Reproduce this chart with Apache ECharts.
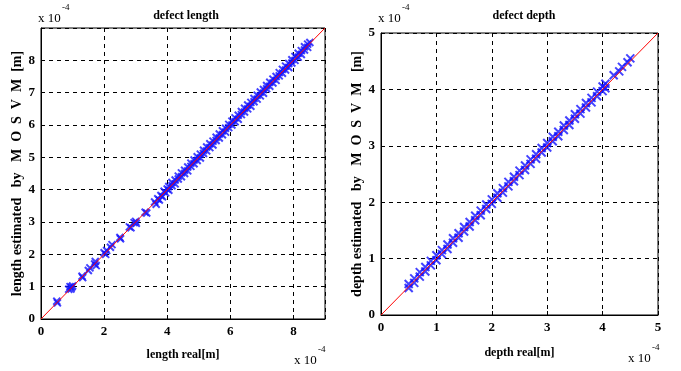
<!DOCTYPE html>
<html>
<head>
<meta charset="utf-8">
<script src="https://cdn.jsdelivr.net/npm/echarts@6/dist/echarts.min.js"></script>
<style>
  html, body { margin: 0; padding: 0; background: #fff; }
  #chart { width: 681px; height: 371px; }
</style>
</head>
<body>
<div id="chart"></div>
<script>
// values in units of 1e-4 m
var lengthReal = [
  0.5, 0.52, 0.88, 0.92, 0.95, 1.0, 0.97, 1.3, 1.32, 1.5, 1.55, 1.7, 1.72, 1.75,
  2.0, 2.05, 2.08, 2.2, 2.25, 2.5, 2.52, 2.8, 2.85, 2.95, 3.0, 3.02, 3.3, 3.35,
  3.6, 3.65, 3.7, 3.75, 3.8, 3.85, 3.9, 3.95, 4.0,
  4.05, 4.05, 4.15, 4.15, 4.25, 4.25, 4.35, 4.35, 4.45, 4.45, 4.55, 4.55,
  4.65, 4.65, 4.75, 4.75, 4.85, 4.85, 4.95, 4.95, 5.05, 5.05, 5.15, 5.15,
  5.25, 5.25, 5.35, 5.35, 5.45, 5.45, 5.55, 5.55, 5.65, 5.65, 5.75, 5.75,
  5.85, 5.85, 5.95, 5.95, 6.05, 6.05, 6.15, 6.15, 6.25, 6.25, 6.35, 6.35,
  6.45, 6.45, 6.55, 6.55, 6.65, 6.65, 6.75, 6.75, 6.85, 6.85, 6.95, 6.95,
  7.05, 7.05, 7.15, 7.15, 7.25, 7.25, 7.35, 7.35, 7.45, 7.45, 7.55, 7.55,
  7.65, 7.65, 7.75, 7.75, 7.85, 7.85, 7.95, 7.95, 8.05, 8.05, 8.15, 8.15,
  8.25, 8.25, 8.35, 8.35, 8.45, 8.45, 8.52
];
var lengthEst = [
  0.55, 0.5, 0.92, 1.0, 0.93, 1.02, 0.98, 1.32, 1.28, 1.5, 1.58, 1.7, 1.78, 1.65,
  2.05, 2.0, 2.12, 2.22, 2.3, 2.52, 2.48, 2.85, 2.82, 2.98, 3.02, 2.96, 3.3, 3.28,
  3.62, 3.55, 3.72, 3.68, 3.82, 3.78, 3.95, 3.9, 4.02,
  4.1, 3.98, 4.12, 4.22, 4.3, 4.18, 4.33, 4.42, 4.52, 4.4, 4.5, 4.6,
  4.7, 4.58, 4.72, 4.82, 4.92, 4.8, 4.9, 5.02, 5.1, 4.98, 5.12, 5.22,
  5.32, 5.2, 5.3, 5.42, 5.5, 5.38, 5.52, 5.62, 5.72, 5.6, 5.7, 5.82,
  5.9, 5.78, 5.92, 6.02, 6.12, 6.0, 6.1, 6.22, 6.3, 6.18, 6.32, 6.42,
  6.52, 6.4, 6.5, 6.62, 6.7, 6.58, 6.72, 6.82, 6.92, 6.8, 6.9, 7.02,
  7.1, 6.98, 7.12, 7.22, 7.32, 7.2, 7.3, 7.42, 7.5, 7.38, 7.52, 7.62,
  7.72, 7.6, 7.7, 7.82, 7.9, 7.78, 7.92, 8.02, 8.12, 8.0, 8.1, 8.22,
  8.3, 8.18, 8.32, 8.42, 8.5, 8.4, 8.55
];
var depthReal = [
  0.5, 0.5, 0.6, 0.6, 0.7, 0.7, 0.8, 0.8, 0.9, 0.9, 1.0, 1.0, 1.1, 1.1,
  1.2, 1.2, 1.3, 1.3, 1.4, 1.4, 1.5, 1.5, 1.6, 1.6, 1.7, 1.7, 1.8, 1.8,
  1.9, 1.9, 2.0, 2.0, 2.1, 2.1, 2.2, 2.2, 2.3, 2.3, 2.4, 2.4, 2.5, 2.5,
  2.6, 2.6, 2.7, 2.7, 2.8, 2.8, 2.9, 2.9, 3.0, 3.0, 3.1, 3.1, 3.2, 3.2,
  3.3, 3.3, 3.4, 3.4, 3.5, 3.5, 3.6, 3.6, 3.7, 3.7, 3.8, 3.8, 3.9, 3.9,
  4.0, 4.0, 4.05, 4.05, 4.2, 4.3, 4.35, 4.45, 4.5
];
var depthEst = [
  0.55, 0.48, 0.65, 0.57, 0.68, 0.76, 0.85, 0.77, 0.88, 0.96, 1.06, 0.97, 1.08, 1.15,
  1.25, 1.17, 1.28, 1.36, 1.45, 1.37, 1.48, 1.56, 1.65, 1.57, 1.68, 1.76, 1.85, 1.77,
  1.88, 1.96, 2.05, 1.97, 2.08, 2.16, 2.25, 2.17, 2.28, 2.36, 2.45, 2.37, 2.48, 2.56,
  2.65, 2.57, 2.68, 2.76, 2.85, 2.77, 2.88, 2.96, 3.05, 2.97, 3.08, 3.16, 3.25, 3.17,
  3.28, 3.36, 3.45, 3.37, 3.48, 3.56, 3.65, 3.57, 3.68, 3.76, 3.85, 3.77, 3.88, 3.96,
  4.05, 3.97, 4.1, 4.02, 4.25, 4.32, 4.4, 4.48, 4.55
];
var lengthRef = [[0, 0], [9, 9]];
var depthRef = [[0, 0], [5, 5]];

function pairs(xs, ys) {
  return xs.map(function (x, i) { return [x, ys[i]]; });
}

var chart = echarts.init(document.getElementById('chart'));
var serif = 'Liberation Serif, Times New Roman, serif';
var crossSym = 'path://M0,0L10,10M10,0L0,10';

function axisCommon(max, interval, hideMax) {
  return {
    type: 'value',
    min: 0,
    max: max,
    interval: interval,
    axisLine: { show: true, lineStyle: { color: '#000', width: 1 } },
    axisTick: { show: true, inside: true, length: 4, lineStyle: { color: '#000' } },
    axisLabel: {
      color: '#000', fontFamily: serif, fontWeight: 'bold', fontSize: 13, margin: 6,
      formatter: function (v) { return (hideMax && v === max) ? '' : String(v); }
    },
    splitLine: { show: true, lineStyle: { color: '#000', type: [4, 4], width: 1 } },
    nameTextStyle: { color: '#000', fontFamily: serif, fontWeight: 'bold', fontSize: 12 }
  };
}

var xl = axisCommon(9, 2, true);
xl.gridIndex = 0; xl.name = 'length real[m]'; xl.nameLocation = 'middle'; xl.nameGap = 30;
var yl = axisCommon(9, 1, true);
yl.gridIndex = 0; yl.name = 'length estimated   by   M  O  S  V  M  [m]'; yl.nameLocation = 'middle'; yl.nameGap = 16;
yl.nameTextStyle.fontSize = 14;
var xr = axisCommon(5, 1, false);
xr.gridIndex = 1; xr.name = 'depth real[m]'; xr.nameLocation = 'middle'; xr.nameGap = 32;
var yr = axisCommon(5, 1, false);
yr.gridIndex = 1; yr.name = 'depth estimated   by   M  O  S  V  M   [m]'; yr.nameLocation = 'middle'; yr.nameGap = 16;
yr.nameTextStyle.fontSize = 14;

function expText(x, y) {
  return [
    { type: 'text', left: x, top: y, style: { text: 'x 10', font: '13px ' + serif, fill: '#000' } },
    { type: 'text', left: x + 24, top: y - 9, style: { text: '-4', font: '9px ' + serif, fill: '#000' } }
  ];
}

var option = {
  backgroundColor: '#fff',
  animation: false,
  title: [
    { text: 'defect length', left: 181, top: 5, textAlign: 'center',
      textStyle: { fontFamily: serif, fontWeight: 'bold', fontSize: 12, color: '#000' } },
    { text: 'defect depth', left: 519, top: 5, textAlign: 'center',
      textStyle: { fontFamily: serif, fontWeight: 'bold', fontSize: 12, color: '#000' } }
  ],
  grid: [
    { left: 41, top: 28, width: 284, height: 291, show: true, borderColor: '#000', borderWidth: 1 },
    { left: 381, top: 33, width: 277, height: 282, show: true, borderColor: '#000', borderWidth: 1 }
  ],
  xAxis: [xl, xr],
  yAxis: [yl, yr],
  series: [
    { type: 'line', xAxisIndex: 0, yAxisIndex: 0, data: lengthRef, showSymbol: false,
      lineStyle: { color: '#ff0000', width: 1 }, z: 3 },
    { type: 'scatter', xAxisIndex: 0, yAxisIndex: 0, data: pairs(lengthReal, lengthEst),
      symbol: crossSym, symbolSize: 7,
      itemStyle: { color: 'rgba(0,0,0,0)', borderColor: '#1414ff', borderWidth: 2 }, z: 2 },
    { type: 'line', xAxisIndex: 1, yAxisIndex: 1, data: depthRef, showSymbol: false,
      lineStyle: { color: '#ff0000', width: 1 }, z: 3 },
    { type: 'scatter', xAxisIndex: 1, yAxisIndex: 1, data: pairs(depthReal, depthEst),
      symbol: crossSym, symbolSize: 8,
      itemStyle: { color: 'rgba(0,0,0,0)', borderColor: '#1414ff', borderWidth: 2 }, z: 2 }
  ],
  graphic: [].concat(expText(38, 12), expText(294, 354), expText(378, 12), expText(628, 352))
};
chart.setOption(option);
</script>
</body>
</html>
